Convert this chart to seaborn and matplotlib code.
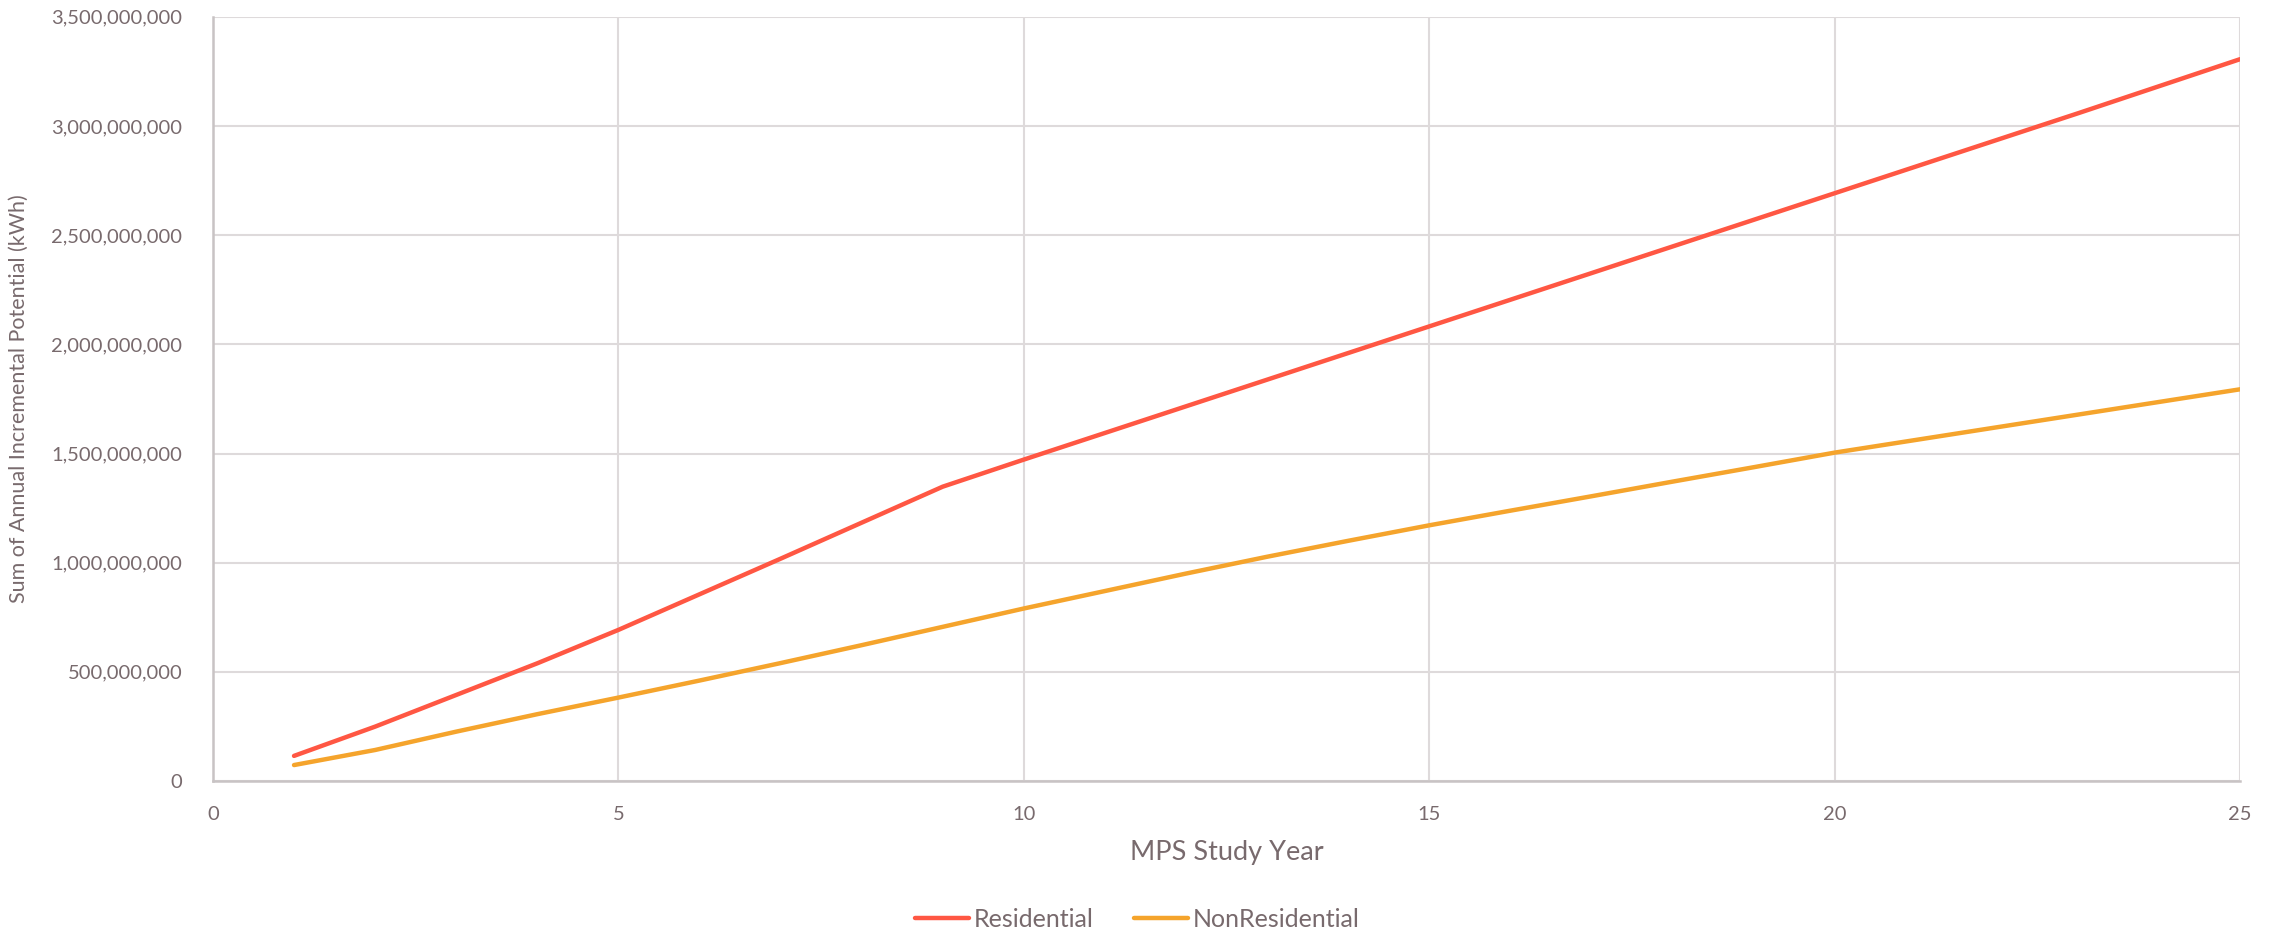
import matplotlib
matplotlib.use("Agg")
import matplotlib.pyplot as plt
import matplotlib.ticker as mticker
import pandas as pd
import seaborn as sns

# MPS study years and cumulative annual incremental potential (kWh)
years = list(range(1, 26))
residential = [
    0.115e9, 0.249e9, 0.394e9, 0.539e9, 0.692e9, 0.855e9, 1.018e9, 1.183e9,
    1.348e9, 1.472e9, 1.594e9, 1.716e9, 1.838e9, 1.960e9, 2.082e9, 2.204e9,
    2.326e9, 2.448e9, 2.570e9, 2.692e9, 2.814e9, 2.936e9, 3.058e9, 3.182e9,
    3.306e9,
]
nonresidential = [
    0.073e9, 0.142e9, 0.226e9, 0.306e9, 0.382e9, 0.460e9, 0.540e9, 0.622e9,
    0.706e9, 0.790e9, 0.870e9, 0.950e9, 1.027e9, 1.100e9, 1.171e9, 1.238e9,
    1.304e9, 1.371e9, 1.437e9, 1.504e9, 1.562e9, 1.620e9, 1.678e9, 1.736e9,
    1.794e9,
]
series_names = ["Residential", "NonResidential"]
series_colors = ["#FF5743", "#F5A42C"]

df = pd.DataFrame({
    "year": years * 2,
    "kwh": residential + nonresidential,
    "sector": [series_names[0]] * len(years) + [series_names[1]] * len(years),
})

sns.set_theme(style="white")
plt.rcParams["font.family"] = ["Lato", "DejaVu Sans"]

text_color = "#786A6D"
grid_color = "#DEDADB"
spine_color = "#C8C3C4"

fig = plt.figure(figsize=(22.75, 9.36), dpi=100)
ax = fig.add_axes([0.0936, 0.1656, 0.891, 0.8164])

sns.lineplot(
    data=df, x="year", y="kwh", hue="sector", hue_order=series_names,
    palette=dict(zip(series_names, series_colors)), linewidth=3.2,
    ax=ax, legend=False, solid_capstyle="round",
)

ax.set_xlim(0, 25)
ax.set_ylim(0, 3.5e9)
ax.xaxis.set_major_locator(mticker.MultipleLocator(5))
ax.yaxis.set_major_locator(mticker.MultipleLocator(5e8))
ax.yaxis.set_major_formatter(mticker.FuncFormatter(lambda v, p: f"{v:,.0f}"))

ax.grid(True, color=grid_color, linewidth=1.5)
ax.set_axisbelow(True)
for side in ["top", "right"]:
    ax.spines[side].set_visible(False)
for side in ["left", "bottom"]:
    ax.spines[side].set_color(spine_color)
    ax.spines[side].set_linewidth(1.8)

ax.tick_params(axis="both", length=0, labelsize=14.5, colors=text_color)
ax.tick_params(axis="y", pad=22)
ax.tick_params(axis="x", pad=18)

ax.set_xlabel("MPS Study Year", fontsize=19.5, color=text_color, labelpad=12)
ax.set_ylabel("Sum of Annual Incremental Potential (kWh)", fontsize=15.5,
              color=text_color, labelpad=16)

handles = [plt.Line2D([0], [0], color=c, linewidth=3.2, solid_capstyle="round")
           for c in series_colors]
leg = fig.legend(handles, series_names, loc="center", bbox_to_anchor=(0.5, 0.018),
                 ncol=2, frameon=False, fontsize=18, handlelength=2.15,
                 columnspacing=1.6, handletextpad=0.2)
for t in leg.get_texts():
    t.set_color(text_color)

fig.savefig("out.png", dpi=100)
